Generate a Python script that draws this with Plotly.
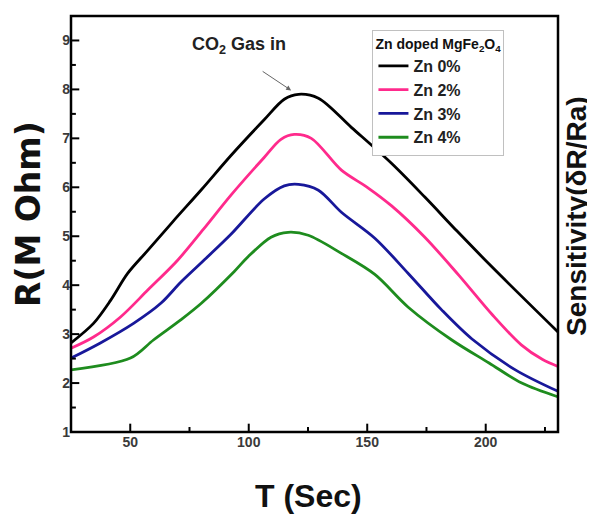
import plotly.graph_objects as go

# Data
t_zn0 = [25, 34.5, 41.7, 48.9, 57.4, 68, 80, 92.5, 106.5, 115, 121, 129.4, 143.4, 160, 174.3, 188, 202.7, 231]
r_zn0 = [2.82, 3.22, 3.69, 4.24, 4.71, 5.3, 5.95, 6.65, 7.38, 7.8, 7.9, 7.82, 7.22, 6.5, 5.8, 5.1, 4.37, 3.02]

t_zn2 = [25, 34.5, 45.9, 57.4, 70, 81, 92.5, 106.5, 113.6, 119.2, 126.4, 139.1, 150, 160.3, 174.3, 188.7, 202.7, 215, 224, 231]
r_zn2 = [2.71, 2.94, 3.35, 3.9, 4.51, 5.15, 5.84, 6.61, 6.98, 7.08, 7.0, 6.35, 6.0, 5.62, 4.98, 4.2, 3.4, 2.78, 2.48, 2.33]

t_zn3 = [25, 37.4, 51.4, 62.9, 71.3, 82, 92.5, 106.5, 115, 121, 129.4, 139.1, 153.2, 167.3, 181.5, 194.2, 212.5, 231]
r_zn3 = [2.51, 2.82, 3.22, 3.63, 4.06, 4.55, 5.04, 5.76, 6.03, 6.06, 5.94, 5.49, 4.96, 4.24, 3.49, 2.9, 2.27, 1.82]

t_zn4 = [25, 50.1, 59.8, 71.3, 80, 93.9, 99.7, 109.4, 116.6, 125.1, 139.1, 153.2, 167.3, 185.7, 201.4, 215.2, 231]
r_zn4 = [2.27, 2.51, 2.88, 3.29, 3.63, 4.28, 4.58, 4.98, 5.08, 5.02, 4.65, 4.22, 3.55, 2.88, 2.41, 2.0, 1.71]

series_names = ["Zn 0%", "Zn 2%", "Zn 3%", "Zn 4%"]
series_colors = ["#000000", "#ff2a8c", "#18189a", "#1e8c1e"]
series_t = [t_zn0, t_zn2, t_zn3, t_zn4]
series_r = [r_zn0, r_zn2, r_zn3, r_zn4]

x_ticks = [50, 100, 150, 200]
x_minor = [75, 125, 175, 225]
y_ticks = [1, 2, 3, 4, 5, 6, 7, 8, 9]
y_minor = [1.5, 2.5, 3.5, 4.5, 5.5, 6.5, 7.5, 8.5]

FONT = "Liberation Sans, Arial, sans-serif"
WIDE = "DejaVu Sans, sans-serif"

fig = go.Figure()
for name, col, t, r in zip(series_names, series_colors, series_t, series_r):
    fig.add_trace(go.Scatter(
        x=t, y=r, name=f"<b>{name}</b>", mode="lines",
        line=dict(color=col, width=2.8, shape="spline", smoothing=0.9),
    ))

# page body has an 8px margin: compensate in size/margins
fig.update_layout(
    width=587, height=506,
    margin=dict(l=63, r=37, t=8, b=82, autoexpand=False),
    paper_bgcolor="white", plot_bgcolor="rgba(0,0,0,0)",
    font=dict(family=FONT, color="#333333"),
    showlegend=True,
    legend=dict(
        x=0.619, y=0.967, xanchor="left", yanchor="top",
        bordercolor="#c0c0c0", borderwidth=1, bgcolor="white",
        title=dict(text="<b>Zn doped MgFe<sub>2</sub>O<sub>4</sub></b>",
                   font=dict(size=14, color="#111111", family=FONT)),
        font=dict(size=16, color="#222222", family=FONT),
        tracegroupgap=0, itemwidth=30,
    ),
)

fig.update_xaxes(
    range=[25, 230.5], tickmode="array", tickvals=x_ticks,
    ticktext=[f"<b>{v}</b>" for v in x_ticks],
    ticks="", showline=False,
    showgrid=False, zeroline=False, automargin=False,
    tickfont=dict(size=14, color="#3a3a3a", family=FONT),
)
fig.update_yaxes(
    range=[1, 9.5], tickmode="array", tickvals=y_ticks,
    ticktext=[f"<b>{v}</b>" for v in y_ticks],
    ticks="", showline=False,
    showgrid=False, zeroline=False, automargin=False,
    tickfont=dict(size=14, color="#3a3a3a", family=FONT),
)

# Frame drawn as a shape
fig.add_shape(type="rect", xref="paper", yref="paper", x0=0, x1=1, y0=0, y1=1,
              line=dict(color="#000000", width=2.5), layer="above")

# Inward tick marks on left and bottom axes
for v in x_ticks:
    fig.add_shape(type="line", xref="x", yref="paper", x0=v, x1=v, y0=0, y1=0.02,
                  line=dict(color="#000000", width=2))
for v in x_minor:
    fig.add_shape(type="line", xref="x", yref="paper", x0=v, x1=v, y0=0, y1=0.012,
                  line=dict(color="#000000", width=2))
for v in y_ticks:
    fig.add_shape(type="line", xref="paper", yref="y", x0=0, x1=0.017, y0=v, y1=v,
                  line=dict(color="#000000", width=2))
for v in y_minor:
    fig.add_shape(type="line", xref="paper", yref="y", x0=0, x1=0.01, y0=v, y1=v,
                  line=dict(color="#000000", width=2))

# Axis titles
fig.add_annotation(
    text="<b>T (Sec)</b>", xref="paper", yref="paper", x=0.5, y=0,
    xanchor="center", yanchor="middle", xshift=-6, yshift=-64, showarrow=False,
    font=dict(size=32, color="#111111", family=FONT),
)
fig.add_annotation(
    text="<b>R(M Ohm)</b>", textangle=-90, xref="paper", yref="paper", x=0, y=0.524,
    xanchor="center", yanchor="middle", xshift=-43, showarrow=False,
    font=dict(size=33, color="#111111", family=WIDE),
)
fig.add_annotation(
    text="<b>Sensitivity(δR/Ra)</b>", textangle=-90,
    xref="paper", yref="paper", x=1.0, y=0.517, xanchor="center", yanchor="middle",
    xshift=19, showarrow=False,
    font=dict(size=28, color="#111111", family=FONT),
)

# CO2 Gas in label and arrow
fig.add_annotation(
    text="<b>CO<sub>2</sub> Gas in</b>", xref="x", yref="y",
    x=95.9, y=8.9, showarrow=False,
    font=dict(size=18, color="#222222", family=FONT),
)
fig.add_annotation(
    x=117.9, y=7.98, xref="x", yref="y", ax=-30, ay=-20,
    text="", showarrow=True, arrowhead=2, arrowsize=1, arrowwidth=1,
    arrowcolor="#666666",
)

fig.write_html("out.html")
